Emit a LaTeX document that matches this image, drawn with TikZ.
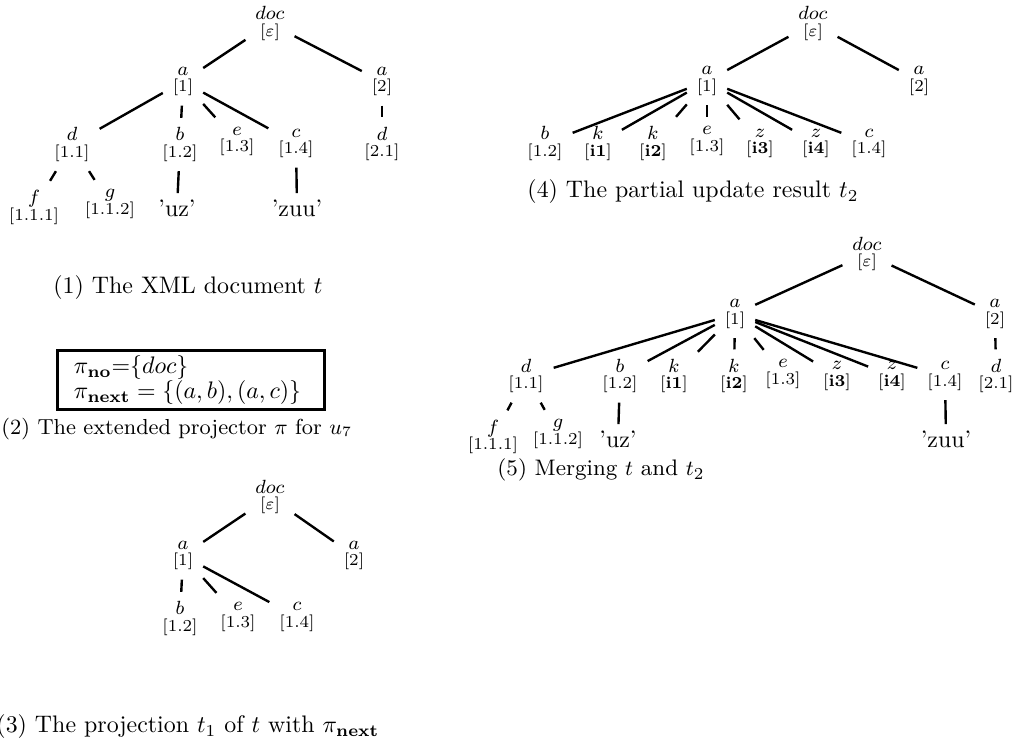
\documentclass[tikz,border=0pt]{standalone}
\newcommand{\tlab}[2]{{\footnotesize$#1$}\\[-1pt]{[#2]}}
\begin{document}
\begin{tikzpicture}[x=0.4184pt,y=-0.4184pt,
  tn/.style={font=\scriptsize, align=center, inner xsep=4pt, inner ysep=3.8pt},
  leafnode/.style={font=\normalsize, inner xsep=3pt, inner ysep=2.5pt},
  conn/.style={line width=1pt},
  capt/.style={font=\normalsize, inner sep=0pt}]
\useasboundingbox (0,0) rectangle (1017,742);
% ---------- Panel 1 ----------
\node[tn] (p1doc) at (270,23.5) {\tlab{doc}{$\varepsilon$}};
\node[tn] (p1a1) at (183,81.5) {\tlab{a}{1}};
\node[tn] (p1a2) at (382,81.5) {\tlab{a}{2}};
\node[tn] (p1d) at (72,144.5) {\tlab{d}{1.1}};
\node[tn] (p1b) at (180,144.5) {\tlab{b}{1.2}};
\node[tn] (p1e) at (237,141.5) {\tlab{e}{1.3}};
\node[tn] (p1c) at (296,143.5) {\tlab{c}{1.4}};
\node[tn] (p1d2) at (382,144) {\tlab{d}{2.1}};
\node[tn] (p1f) at (34,207.5) {\tlab{f}{1.1.1}};
\node[tn] (p1g) at (110,204) {\tlab{g}{1.1.2}};
\node[leafnode] (p1uz) at (177,208) {'uz'};
\node[leafnode] (p1zuu) at (297,208) {'zuu'};
\foreach \u/\v in {p1doc/p1a1,p1doc/p1a2,p1a1/p1d,p1a1/p1b,p1a1/p1e,p1a1/p1c,p1a2/p1d2,p1d/p1f,p1d/p1g,p1b/p1uz,p1c/p1zuu}
  \draw[conn] (\u) -- (\v);
\node[capt] (cap1) at (188,288) {(1) The XML document $t$};
% ---------- Panel 2 ----------
\node[draw, line width=1.2pt, text width=98pt, align=left, inner xsep=7pt, inner ysep=2pt] (box) at (191,380)
  {$\pi_{\mathbf{no}}$=$\{doc\}$\\[-1.5pt]$\pi_{\mathbf{next}}=\{(a,b),(a,c)\}$};
\node[capt, anchor=west, font=\fontsize{9.1}{11}\selectfont] (cap2) at (1,429) {(2) The extended projector $\pi$ for $u_7$};
% ---------- Panel 3 ----------
\node[tn] (p3doc) at (270,497) {\tlab{doc}{$\varepsilon$}};
\node[tn] (p3a1) at (183,555.5) {\tlab{a}{1}};
\node[tn] (p3a2) at (354,555.5) {\tlab{a}{2}};
\node[tn] (p3b) at (180,618.5) {\tlab{b}{1.2}};
\node[tn] (p3e) at (238,617) {\tlab{e}{1.3}};
\node[tn] (p3c) at (297,617) {\tlab{c}{1.4}};
\foreach \u/\v in {p3doc/p3a1,p3doc/p3a2,p3a1/p3b,p3a1/p3e,p3a1/p3c}
  \draw[conn] (\u) -- (\v);
\node[capt, anchor=west] (cap3) at (-4,727) {(3) The projection $t_1$ of $t$ with $\pi_{\mathbf{next}}$};
% ---------- Panel 4 ----------
\node[tn] (p4doc) at (813,23.5) {\tlab{doc}{$\varepsilon$}};
\node[tn] (p4a1) at (707,81) {\tlab{a}{1}};
\node[tn] (p4a2) at (919,81) {\tlab{a}{2}};
\node[tn] (p4b) at (545,143.5) {\tlab{b}{1.2}};
\node[tn] (p4k1) at (598,143.5) {\tlab{k}{\textbf{i1}}};
\node[tn] (p4k2) at (653,143.5) {\tlab{k}{\textbf{i2}}};
\node[tn] (p4e) at (707,141) {\tlab{e}{1.3}};
\node[tn] (p4z3) at (760,143.5) {\tlab{z}{\textbf{i3}}};
\node[tn] (p4z4) at (816,143.5) {\tlab{z}{\textbf{i4}}};
\node[tn] (p4c) at (869,143.5) {\tlab{c}{1.4}};
\foreach \u/\v in {p4doc/p4a1,p4doc/p4a2,p4a1/p4b,p4a1/p4k1,p4a1/p4k2,p4a1/p4e,p4a1/p4z3,p4a1/p4z4,p4a1/p4c}
  \draw[conn] (\u) -- (\v);
\node[capt, anchor=west] (cap4) at (527,192) {(4) The partial update result $t_2$};
% ---------- Panel 5 ----------
\node[tn] (p5doc) at (867,254) {\tlab{doc}{$\varepsilon$}};
\node[tn] (p5a1) at (735,314) {\tlab{a}{1}};
\node[tn] (p5a2) at (995,314) {\tlab{a}{2}};
\node[tn] (p5d) at (526,376) {\tlab{d}{1.1}};
\node[tn] (p5b) at (620,376) {\tlab{b}{1.2}};
\node[tn] (p5k1) at (674,376) {\tlab{k}{\textbf{i1}}};
\node[tn] (p5k2) at (734,376) {\tlab{k}{\textbf{i2}}};
\node[tn] (p5e) at (783,374) {\tlab{e}{1.3}};
\node[tn] (p5z3) at (837,376) {\tlab{z}{\textbf{i3}}};
\node[tn] (p5z4) at (892,376) {\tlab{z}{\textbf{i4}}};
\node[tn] (p5c) at (945,376) {\tlab{c}{1.4}};
\node[tn] (p5d2) at (996,376) {\tlab{d}{2.1}};
\node[tn] (p5f) at (493,437) {\tlab{f}{1.1.1}};
\node[tn] (p5g) at (558,434) {\tlab{g}{1.1.2}};
\node[leafnode] (p5uz) at (618,439) {'uz'};
\node[leafnode] (p5zuu) at (946,439) {'zuu'};
\foreach \u/\v in {p5doc/p5a1,p5doc/p5a2,p5a1/p5d,p5a1/p5b,p5a1/p5k1,p5a1/p5k2,p5a1/p5e,p5a1/p5z3,p5a1/p5z4,p5a1/p5c,p5a2/p5d2,p5d/p5f,p5d/p5g,p5b/p5uz,p5c/p5zuu}
  \draw[conn] (\u) -- (\v);
\node[capt, anchor=west, font=\fontsize{9.4}{11}\selectfont] (cap5) at (497,470) {(5) Merging $t$ and $t_2$};
\end{tikzpicture}
\end{document}
